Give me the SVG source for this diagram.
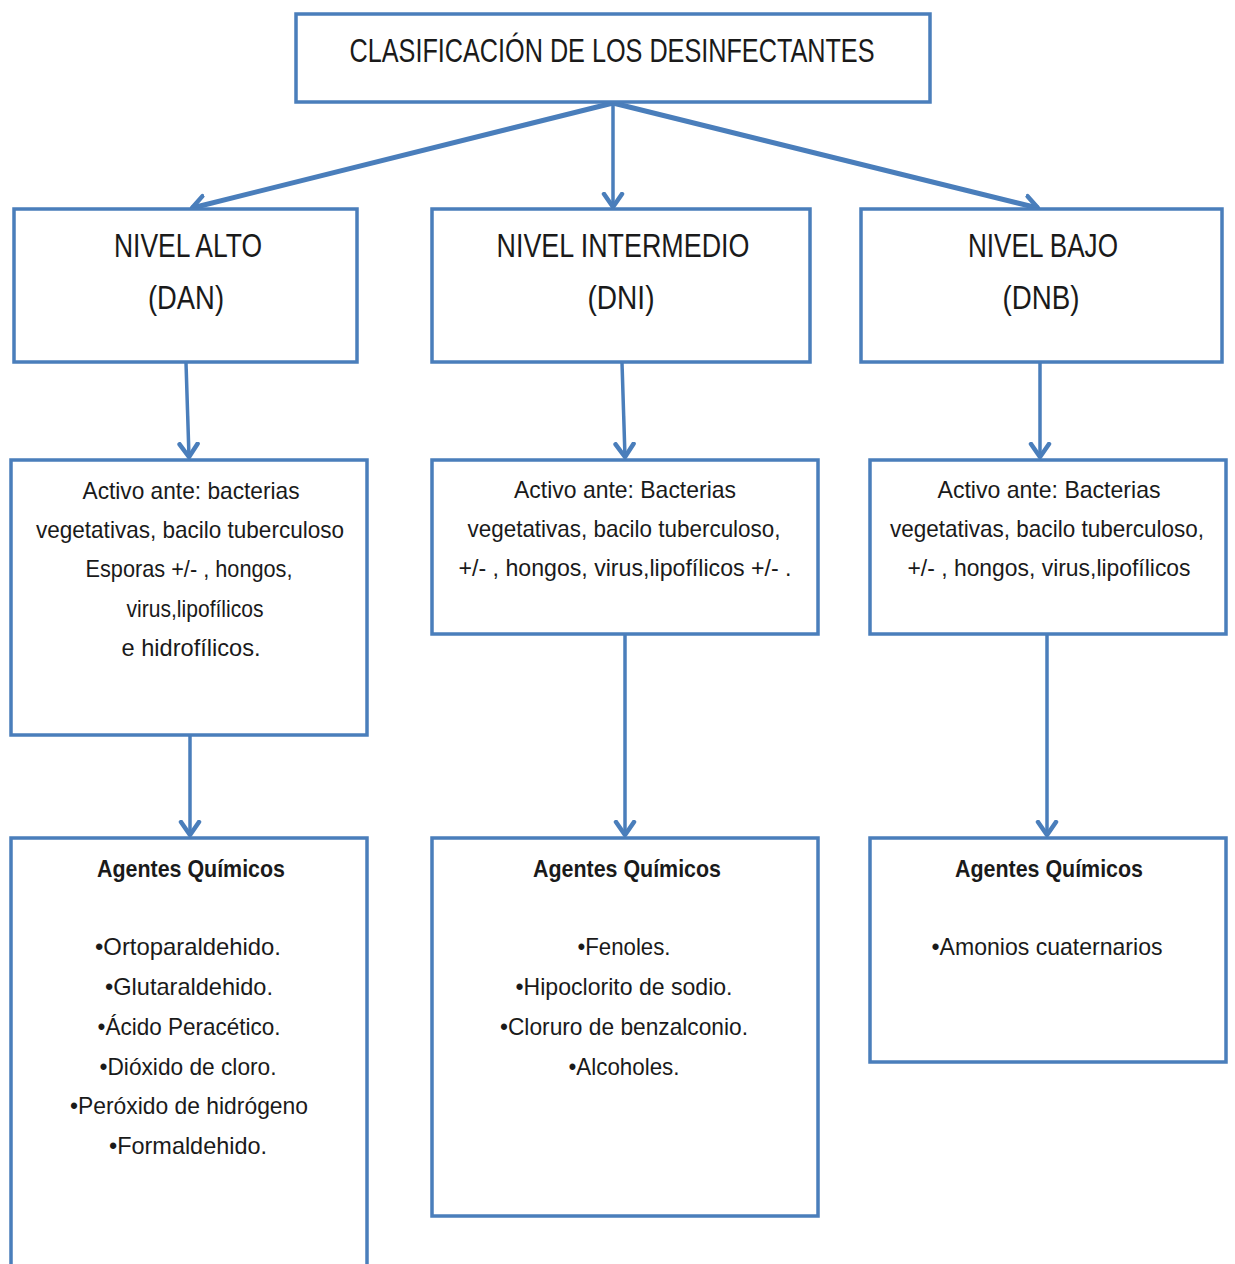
<svg xmlns="http://www.w3.org/2000/svg" width="1235" height="1264" viewBox="0 0 1235 1264">
<style>
.box{fill:#ffffff;stroke:#4a7ebb;stroke-width:3.5}
.t{font-family:"Liberation Sans",Arial,sans-serif;fill:#1a1a1a;text-anchor:middle}
.h{font-size:33px}
.title{font-size:33px}
.b{font-size:24px}
.bb{font-size:24px;font-weight:bold}
.c{stroke:#4a7ebb;fill:none;stroke-width:3.5}
.cd{stroke:#4a7ebb;fill:none;stroke-width:5}
</style>
<defs>
<marker id="arr" markerUnits="userSpaceOnUse" markerWidth="30" markerHeight="30" viewBox="-15 -15 30 30" refX="0" refY="0" orient="auto">
<path d="M-13,-9 L0,0 L-13,9" fill="none" stroke="#4a7ebb" stroke-width="4.5" stroke-linecap="round" stroke-linejoin="round"/>
</marker>
</defs>
<rect width="1235" height="1264" fill="#ffffff"/>
<g id="connectors">
<line class="cd" x1="613" y1="103" x2="192" y2="208" marker-end="url(#arr)"/>
<line class="c" x1="613" y1="103" x2="613" y2="207" marker-end="url(#arr)"/>
<line class="cd" x1="613" y1="103" x2="1038" y2="208" marker-end="url(#arr)"/>
<line class="c" x1="186" y1="363" x2="189" y2="457" marker-end="url(#arr)"/>
<line class="c" x1="622" y1="363" x2="625" y2="457" marker-end="url(#arr)"/>
<line class="c" x1="1040" y1="363" x2="1040" y2="457" marker-end="url(#arr)"/>
<line class="c" x1="190" y1="736" x2="190" y2="835" marker-end="url(#arr)"/>
<line class="c" x1="625" y1="635" x2="625" y2="835" marker-end="url(#arr)"/>
<line class="c" x1="1047" y1="635" x2="1047" y2="835" marker-end="url(#arr)"/>
</g>
<g id="title">
<rect class="box" x="296" y="14" width="634" height="88"/>
<text class="t title" x="612" y="62" textLength="525" lengthAdjust="spacingAndGlyphs">CLASIFICACIÓN DE LOS DESINFECTANTES</text>
</g>
<g id="nivel-alto">
<rect class="box" x="14" y="209" width="343" height="153"/>
<text class="t h" x="188" y="257" textLength="148" lengthAdjust="spacingAndGlyphs">NIVEL ALTO</text>
<text class="t h" x="186" y="309" textLength="76" lengthAdjust="spacingAndGlyphs">(DAN)</text>
</g>
<g id="nivel-intermedio">
<rect class="box" x="432" y="209" width="378" height="153"/>
<text class="t h" x="623" y="257" textLength="253" lengthAdjust="spacingAndGlyphs">NIVEL INTERMEDIO</text>
<text class="t h" x="621" y="309" textLength="67" lengthAdjust="spacingAndGlyphs">(DNI)</text>
</g>
<g id="nivel-bajo">
<rect class="box" x="861" y="209" width="361" height="153"/>
<text class="t h" x="1043" y="257" textLength="150" lengthAdjust="spacingAndGlyphs">NIVEL BAJO</text>
<text class="t h" x="1041" y="309" textLength="77" lengthAdjust="spacingAndGlyphs">(DNB)</text>
</g>
<g id="activo-alto">
<rect class="box" x="11" y="460" width="356" height="275"/>
<text class="t b" x="191" y="499" textLength="217" lengthAdjust="spacingAndGlyphs">Activo ante: bacterias</text>
<text class="t b" x="190" y="538" textLength="308" lengthAdjust="spacingAndGlyphs">vegetativas, bacilo tuberculoso</text>
<text class="t b" x="189" y="577" textLength="207" lengthAdjust="spacingAndGlyphs">Esporas +/- , hongos,</text>
<text class="t b" x="195" y="617" textLength="137" lengthAdjust="spacingAndGlyphs">virus,lipofílicos</text>
<text class="t b" x="191" y="656" textLength="139" lengthAdjust="spacingAndGlyphs">e  hidrofílicos.</text>
</g>
<g id="activo-intermedio">
<rect class="box" x="432" y="460" width="386" height="174"/>
<text class="t b" x="625" y="498" textLength="222" lengthAdjust="spacingAndGlyphs">Activo  ante: Bacterias</text>
<text class="t b" x="624" y="537" textLength="313" lengthAdjust="spacingAndGlyphs">vegetativas, bacilo tuberculoso,</text>
<text class="t b" x="625" y="576" textLength="333" lengthAdjust="spacingAndGlyphs">+/- , hongos, virus,lipofílicos  +/- .</text>
</g>
<g id="activo-bajo">
<rect class="box" x="870" y="460" width="356" height="174"/>
<text class="t b" x="1049" y="498" textLength="223" lengthAdjust="spacingAndGlyphs">Activo  ante: Bacterias</text>
<text class="t b" x="1047" y="537" textLength="314" lengthAdjust="spacingAndGlyphs">vegetativas, bacilo tuberculoso,</text>
<text class="t b" x="1049" y="576" textLength="283" lengthAdjust="spacingAndGlyphs">+/- , hongos, virus,lipofílicos</text>
</g>
<g id="agentes-alto">
<rect class="box" x="11" y="838" width="356" height="440"/>
<text class="t bb" x="191" y="877" textLength="188" lengthAdjust="spacingAndGlyphs">Agentes Químicos</text>
<text class="t b" x="188" y="955" textLength="186" lengthAdjust="spacingAndGlyphs">•Ortoparaldehido.</text>
<text class="t b" x="189" y="995" textLength="168" lengthAdjust="spacingAndGlyphs">•Glutaraldehido.</text>
<text class="t b" x="189" y="1035" textLength="183" lengthAdjust="spacingAndGlyphs">•Ácido Peracético.</text>
<text class="t b" x="188" y="1075" textLength="177" lengthAdjust="spacingAndGlyphs">•Dióxido de cloro.</text>
<text class="t b" x="189" y="1114" textLength="238" lengthAdjust="spacingAndGlyphs">•Peróxido de hidrógeno</text>
<text class="t b" x="188" y="1154" textLength="158" lengthAdjust="spacingAndGlyphs">•Formaldehido.</text>
</g>
<g id="agentes-intermedio">
<rect class="box" x="432" y="838" width="386" height="378"/>
<text class="t bb" x="627" y="877" textLength="188" lengthAdjust="spacingAndGlyphs">Agentes Químicos</text>
<text class="t b" x="624" y="955" textLength="93" lengthAdjust="spacingAndGlyphs">•Fenoles.</text>
<text class="t b" x="624" y="995" textLength="217" lengthAdjust="spacingAndGlyphs">•Hipoclorito de sodio.</text>
<text class="t b" x="624" y="1035" textLength="248" lengthAdjust="spacingAndGlyphs">•Cloruro de benzalconio.</text>
<text class="t b" x="624" y="1075" textLength="111" lengthAdjust="spacingAndGlyphs">•Alcoholes.</text>
</g>
<g id="agentes-bajo">
<rect class="box" x="870" y="838" width="356" height="224"/>
<text class="t bb" x="1049" y="877" textLength="188" lengthAdjust="spacingAndGlyphs">Agentes Químicos</text>
<text class="t b" x="1047" y="955" textLength="231" lengthAdjust="spacingAndGlyphs">•Amonios cuaternarios</text>
</g>
</svg>
